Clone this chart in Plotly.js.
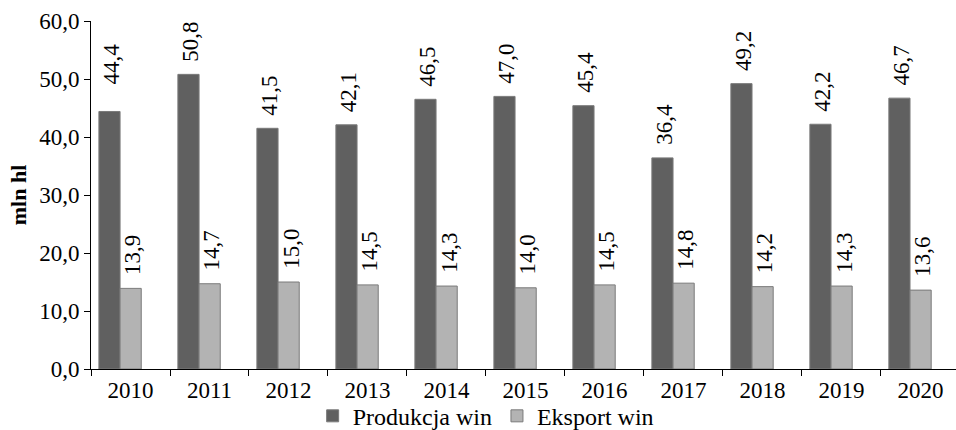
<!DOCTYPE html>
<html>
<head>
<meta charset="utf-8">
<script src="https://cdn.plot.ly/plotly-3.0.1.min.js"></script>
<style>html,body{margin:0;padding:0;background:#fff;}#chart{width:956px;height:430px;}</style>
</head>
<body>
<div id="chart"></div>
<script>
const years = ["2010","2011","2012","2013","2014","2015","2016","2017","2018","2019","2020"];
const produkcja = [44.4, 50.8, 41.5, 42.1, 46.5, 47.0, 45.4, 36.4, 49.2, 42.2, 46.7];
const eksport = [13.9, 14.7, 15.0, 14.5, 14.3, 14.0, 14.5, 14.8, 14.2, 14.3, 13.6];
const seriesNames = ["Produkcja win", "Eksport win"];

const FONT = 'Liberation Serif';
const BW = 0.268;
const offsets = [-0.4, -0.132];
const fills = ['#606060', '#b3b3b3'];
const fmt = v => v.toFixed(1).replace('.', ',');

const series = [produkcja, eksport];
const traces = series.map((vals, s) => ({
  type: 'bar',
  name: seriesNames[s],
  x: years,
  y: vals,
  width: BW,
  offset: offsets[s],
  marker: {color: fills[s], line: {color: '#7a7a7a', width: 1}},
  hoverinfo: 'skip'
}));

const annotations = [];
series.forEach((vals, s) => {
  vals.forEach((v, i) => {
    annotations.push({
      x: i + offsets[s] + BW / 2,
      y: v,
      xref: 'x', yref: 'y',
      text: fmt(v),
      textangle: -90,
      showarrow: false,
      xanchor: 'center',
      yanchor: 'bottom',
      xshift: 2,
      yshift: (s === 0 && i === 0) ? 25 : 11,
      font: {family: FONT, size: 23, color: '#000'}
    });
  });
});

const layout = {
  width: 956, height: 430,
  margin: {l: 91, r: 0, t: 21, b: 61},
  paper_bgcolor: '#fff', plot_bgcolor: '#fff',
  separators: ',.',
  font: {family: FONT, size: 23, color: '#000'},
  barmode: 'group',
  showlegend: true,
  legend: {
    orientation: 'h',
    xref: 'container', yref: 'container',
    x: 0.508, xanchor: 'center',
    y: 0.032, yanchor: 'middle',
    font: {family: FONT, size: 24, color: '#000'},
    itemwidth: 30,
    bgcolor: 'rgba(0,0,0,0)'
  },
  xaxis: {
    type: 'category',
    range: [-0.5, 10.45],
    showline: true, linecolor: '#000', linewidth: 1,
    ticks: 'outside', ticklen: 6, tickcolor: '#000', tickwidth: 1,
    tickson: 'boundaries',
    showgrid: false, zeroline: false,
    tickfont: {family: FONT, size: 23, color: '#000'},
    fixedrange: true
  },
  yaxis: {
    range: [0, 60],
    dtick: 10,
    tickformat: '.1f',
    showline: true, linecolor: '#000', linewidth: 1,
    ticks: 'outside', ticklen: 6, tickcolor: '#000', tickwidth: 1,
    showgrid: false, zeroline: false,
    tickfont: {family: FONT, size: 23, color: '#000'},
    title: {text: '<b>mln hl</b>', font: {family: FONT, size: 22, color: '#000'}, standoff: 6},
    fixedrange: true
  },
  annotations: annotations
};

Plotly.newPlot('chart', traces, layout, {displayModeBar: false, staticPlot: true});
</script>
</body>
</html>
